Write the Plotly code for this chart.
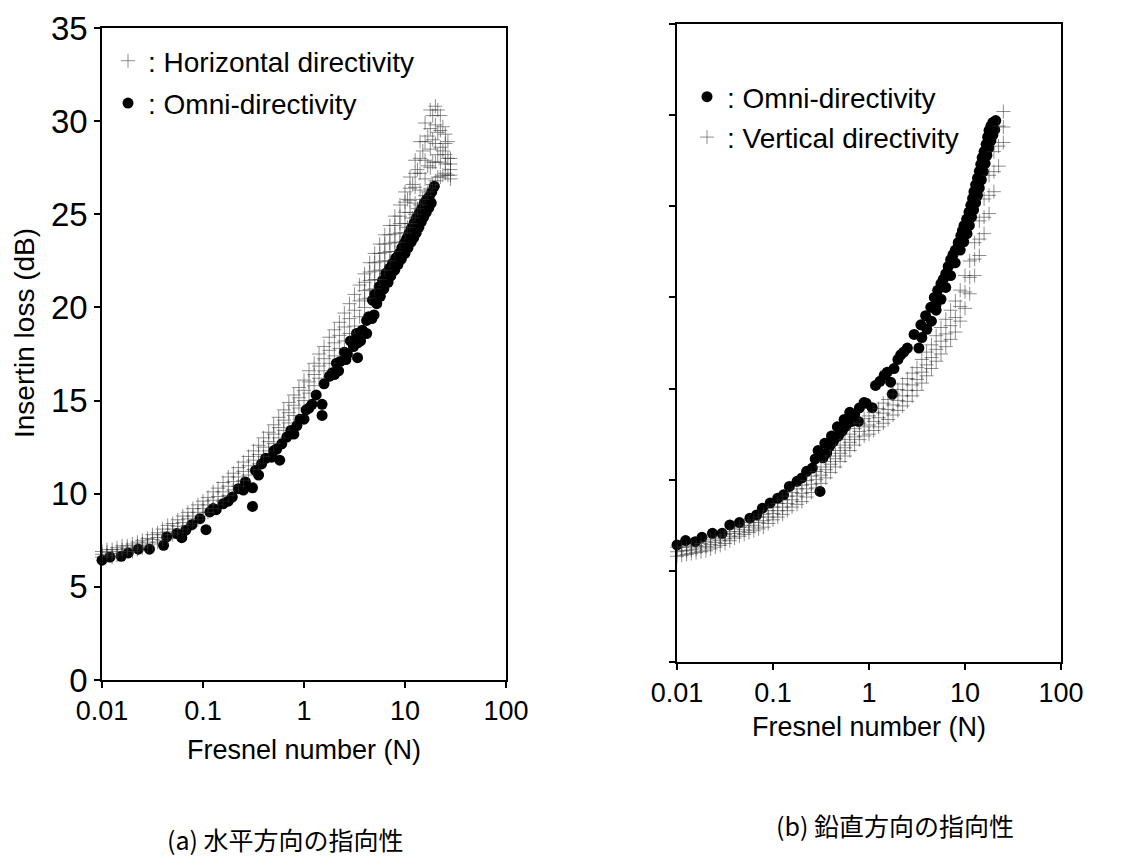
import plotly.graph_objects as go

# ---------------- (a) horizontal directivity panel ----------------
# Omni-directional source, insertion loss (dB) vs Fresnel number N
omni_a_N = [0.0100, 0.0120, 0.0155, 0.0182, 0.0229, 0.0295, 0.0407, 0.0437, 0.0550, 0.0617,
            0.0676, 0.0776, 0.0933, 0.107, 0.117, 0.126, 0.135, 0.158, 0.178, 0.195,
            0.224, 0.251, 0.263, 0.309, 0.309, 0.331, 0.355, 0.380, 0.417, 0.479,
            0.501, 0.537, 0.575, 0.603, 0.676, 0.741, 0.794, 0.851, 0.912, 1.00,
            1.05, 1.12, 1.20, 1.32, 1.51, 1.51, 1.58, 1.78, 1.91, 2.09,
            2.20, 2.29, 2.51, 2.69, 2.88, 3.09, 3.31, 3.39, 3.63, 3.78,
            4.17, 4.17, 4.37, 4.76, 4.94, 5.01, 5.25, 5.55, 6.17, 6.46,
            7.24, 7.52, 8.51, 8.75, 9.82, 10.0, 10.96, 11.5, 12.3, 12.9,
            13.8, 14.5, 15.5, 16.2, 17.4, 18.2, 19.5,
            5.2, 6.0, 7.0, 8.1, 9.3, 10.4, 11.6, 13.0, 14.6, 16.4,
            18.4, 4.7, 5.7, 6.8, 7.9, 9.2, 10.7, 12.2, 13.7, 15.3,
            17.2, 3.4, 2.6, 2.0]
omni_a_dB = [6.43, 6.60, 6.64, 6.82, 7.02, 7.02, 7.23, 7.68, 7.86, 7.64,
             8.04, 8.34, 8.66, 8.07, 9.02, 9.2, 9.14, 9.46, 9.6, 9.82,
             10.27, 10.2, 10.63, 10.32, 9.32, 11.25, 11.0, 11.6, 11.9, 11.96,
             12.3, 12.4, 11.8, 12.68, 13.04, 13.4, 13.2, 13.66, 14.0, 14.0,
             14.5, 14.6, 14.8, 15.3, 14.8, 14.2, 15.9, 16.3, 16.5, 17.0,
             16.6, 17.1, 17.6, 17.5, 18.2, 17.9, 18.6, 17.3, 18.2, 18.78,
             19.3, 18.6, 19.5, 20.39, 19.6, 20.7, 20.2, 21.11, 21.0, 21.83,
             21.7, 22.37, 22.3, 22.9, 23.44, 22.9, 23.98, 23.5, 24.52, 24.0,
             25.05, 24.6, 25.6, 25.1, 25.95, 25.6, 26.5,
             20.75, 21.45, 22.1, 22.65, 23.2, 23.7, 24.25, 24.8, 25.3, 25.8,
             26.2, 19.4, 20.6, 21.35, 22.0, 22.6, 23.2, 23.75, 24.3, 24.85,
             25.35, 18.1, 17.2, 16.4]

# Horizontal directivity: readings at each N across the scatter band
horiz_N = [0.0100, 0.0112, 0.0126, 0.0141, 0.0158, 0.0178, 0.0200, 0.0224, 0.0251, 0.0282,
           0.0316, 0.0355, 0.0398, 0.0447, 0.0501, 0.0562, 0.0631, 0.0708, 0.0794, 0.0891,
           0.100, 0.112, 0.126, 0.141, 0.158, 0.178, 0.200, 0.224, 0.251, 0.282,
           0.316, 0.355, 0.398, 0.447, 0.501, 0.562, 0.631, 0.708, 0.794, 0.891,
           1.00, 1.12, 1.26, 1.41, 1.58, 1.78, 2.00, 2.24, 2.51, 2.82,
           3.16, 3.55, 3.98, 4.47, 5.01, 5.62, 6.31, 7.08, 7.94, 8.91,
           10.0, 11.2, 12.6, 14.1, 15.8, 17.8, 20.0, 22.4, 25.1, 28.2]
horiz_lo = [6.6, 6.7, 6.6, 6.7, 6.8, 6.9, 6.9, 7.0, 7.1, 7.2,
            7.3, 7.4, 7.5, 7.6, 7.8, 7.9, 8.1, 8.3, 8.4, 8.6,
            8.8, 9.0, 9.2, 9.4, 9.6, 9.9, 10.2, 10.4, 10.7, 11.0,
            11.3, 11.6, 12.0, 12.3, 12.7, 13.0, 13.4, 13.8, 14.2, 14.6,
            15.0, 15.4, 15.8, 16.2, 16.6, 17.0, 17.4, 17.8, 18.2, 18.6,
            19.0, 19.5, 20.0, 20.5, 21.0, 21.5, 22.0, 22.5, 23.0, 23.5,
            24.0, 24.5, 25.0, 25.5, 26.0, 26.4, 26.8, 27.0, 27.2, 26.9]
horiz_mid = [6.75, 6.85, 6.8, 6.9, 7.0, 7.05, 7.1, 7.2, 7.3, 7.4,
             7.55, 7.65, 7.8, 7.95, 8.1, 8.25, 8.45, 8.65, 8.8, 9.0,
             9.2, 9.4, 9.65, 9.85, 10.1, 10.4, 10.65, 10.9, 11.2, 11.5,
             11.8, 12.1, 12.5, 12.8, 13.2, 13.55, 13.95, 14.35, 14.75, 15.15,
             15.55, 16.0, 16.4, 16.85, 17.25, 17.7, 18.1, 18.5, 18.95, 19.4,
             19.85, 20.35, 20.9, 21.45, 21.95, 22.45, 22.95, 23.45, 23.95, 24.5,
             25.1, 25.75, 26.45, 27.2, 27.9, 28.5, 28.8, 28.6, 28.2, 27.4]
horiz_hi = [6.9, 7.0, 7.0, 7.1, 7.2, 7.2, 7.3, 7.4, 7.5, 7.6,
            7.8, 7.9, 8.1, 8.3, 8.4, 8.6, 8.8, 9.0, 9.2, 9.4,
            9.6, 9.8, 10.1, 10.3, 10.6, 10.9, 11.1, 11.4, 11.7, 12.0,
            12.3, 12.6, 13.0, 13.3, 13.7, 14.1, 14.5, 14.9, 15.3, 15.7,
            16.1, 16.6, 17.0, 17.5, 17.9, 18.4, 18.8, 19.2, 19.7, 20.2,
            20.7, 21.2, 21.8, 22.4, 22.9, 23.4, 23.9, 24.4, 24.9, 25.5,
            26.2, 27.0, 27.9, 28.9, 29.9, 30.6, 30.8, 30.3, 29.3, 28.0]
# extra readings in the wide upper part of the band (N >= 4)
horiz_top_N = [3.98, 4.47, 5.01, 5.62, 6.31, 7.08, 7.94, 8.91, 10.0,
               11.2, 12.6, 14.1, 15.8, 17.8, 20.0, 22.4, 25.1, 28.2]
horiz_top_q1 = [20.45, 20.95, 21.5, 22.0, 22.5, 23.0, 23.5, 24.0, 24.5,
                25.1, 25.6, 26.3, 26.9, 27.5, 27.8, 27.8, 27.7, 27.1]
horiz_top_q3 = [21.35, 21.9, 22.4, 22.9, 23.4, 23.9, 24.4, 24.9, 25.65,
                26.4, 27.2, 28.0, 28.9, 29.6, 29.8, 29.5, 28.8, 27.7]
horiz_tip_N = [18.8, 18.8, 18.8, 18.8, 21.1, 21.1, 21.1, 21.1, 23.7, 23.7, 23.7,
               26.6, 26.6, 26.6, 16.8, 16.8, 16.8, 15.0, 15.0, 13.3, 13.3,
               11.9, 11.9, 10.6, 10.6]
horiz_tip_dB = [26.6, 27.8, 29.0, 30.3, 27.0, 28.2, 29.4, 30.6, 27.1, 28.4, 29.7,
                27.1, 28.0, 28.9, 26.2, 27.6, 29.2, 25.8, 28.4, 25.3, 27.4,
                24.8, 26.6, 24.3, 25.8]

# ---------------- (b) vertical directivity panel ----------------
omni_b_N = [0.0100, 0.0123, 0.0155, 0.0182, 0.0234, 0.0295, 0.0355, 0.0447, 0.0575, 0.0676,
            0.0776, 0.0933, 0.112, 0.129, 0.148, 0.178, 0.200, 0.224, 0.257, 0.275,
            0.309, 0.331, 0.363, 0.389, 0.427, 0.479, 0.525, 0.575, 0.661, 0.776,
            0.708, 0.794, 0.887, 0.933, 1.08, 1.17, 1.44, 1.75, 1.68, 1.82,
            2.14, 2.51, 3.31, 2.95, 3.47, 3.89, 4.40, 4.97, 4.79, 5.62,
            6.31, 7.08, 7.94, 9.04, 9.77, 11.0, 12.0, 12.9, 14.1, 15.1,
            16.6, 17.8, 19.5, 20.9, 3.55, 4.47, 5.62, 7.08, 8.91, 10.5,
            11.7, 12.9, 14.1, 15.5, 16.9, 18.6, 20.4,
            10.4, 11.5, 12.4, 13.5, 14.6, 15.8, 17.2, 18.6, 6.68, 7.5,
            8.5, 9.4, 5.2, 5.95, 9.7, 11.1, 12.3, 13.5, 14.8, 16.2,
            17.7, 19.5, 4.0, 5.0, 6.3, 7.9, 0.295, 0.347, 0.407, 0.468,
            0.55, 0.63, 1.30, 1.55, 2.0, 2.3]
omni_b_dB = [6.42, 6.66, 6.6, 6.84, 7.06, 7.06, 7.52, 7.65, 7.89, 8.07,
             8.44, 8.72, 8.99, 9.17, 9.63, 9.91, 10.1, 10.46, 10.64, 11.14,
             9.36, 11.2, 11.47, 11.83, 12.11, 12.39, 12.66, 12.94, 13.2, 13.2,
             13.58, 13.94, 14.23, 14.2, 13.95, 15.17, 15.73, 14.7, 15.35, 16.1,
             16.85, 17.22, 17.22, 17.97, 18.5, 19.0, 19.46, 19.55, 20.0, 20.76,
             21.3, 22.07, 22.6, 23.38, 23.94, 24.68, 25.43, 26.18, 26.92, 27.67,
             28.4, 29.16, 29.6, 29.7, 17.8, 18.7, 19.9, 21.2, 22.6, 23.5,
             24.4, 25.2, 26.0, 26.9, 27.8, 28.6, 29.2,
             24.3, 25.05, 25.8, 26.55, 27.3, 28.0, 28.8, 29.4, 21.7, 22.35,
             23.0, 23.66, 20.4, 21.0, 23.05, 23.95, 24.8, 25.6, 26.45, 27.35,
             28.2, 28.9, 18.25, 19.3, 20.55, 21.9, 11.6, 12.0, 12.4, 12.9,
             13.3, 13.7, 15.4, 15.9, 16.6, 17.0]

vert_N = [0.0100, 0.0112, 0.0126, 0.0141, 0.0158, 0.0178, 0.0200, 0.0224, 0.0251, 0.0282,
          0.0316, 0.0355, 0.0398, 0.0447, 0.0501, 0.0562, 0.0631, 0.0708, 0.0794, 0.0891,
          0.100, 0.112, 0.126, 0.141, 0.158, 0.178, 0.200, 0.224, 0.251, 0.282,
          0.316, 0.355, 0.398, 0.447, 0.501, 0.562, 0.631, 0.708, 0.794, 0.891,
          1.00, 1.12, 1.26, 1.41, 1.58, 1.78, 2.00, 2.24, 2.51, 2.82,
          3.16, 3.55, 3.98, 4.47, 5.01, 5.62, 6.31, 7.08, 7.94, 8.91,
          10.0, 11.2, 12.6, 14.1, 15.8, 17.8, 20.0, 22.4, 25.1]
vert_lo = [5.8, 5.85, 5.9, 5.95, 6.0, 6.05, 6.1, 6.2, 6.3, 6.4,
           6.5, 6.65, 6.8, 6.9, 7.0, 7.1, 7.2, 7.3, 7.4, 7.6,
           7.8, 7.95, 8.1, 8.3, 8.5, 8.65, 8.8, 9.05, 9.3, 9.55,
           9.8, 10.1, 10.4, 10.7, 11.0, 11.3, 11.6, 11.9, 12.2, 12.4,
           12.5, 12.7, 12.9, 13.1, 13.3, 13.55, 13.8, 14.05, 14.3, 14.6,
           14.9, 15.3, 15.7, 16.1, 16.5, 16.9, 17.3, 17.7, 18.1, 18.7,
           19.4, 20.2, 21.2, 22.3, 23.5, 24.6, 25.8, 27.2, 28.5]
vert_mid = [6.05, 6.1, 6.1, 6.15, 6.2, 6.3, 6.35, 6.45, 6.55, 6.65,
            6.75, 6.9, 7.05, 7.15, 7.25, 7.4, 7.5, 7.65, 7.75, 7.95,
            8.15, 8.3, 8.5, 8.7, 8.9, 9.1, 9.25, 9.5, 9.75, 10.0,
            10.25, 10.55, 10.85, 11.15, 11.45, 11.75, 12.05, 12.35, 12.65, 12.9,
            13.0, 13.2, 13.4, 13.65, 13.85, 14.1, 14.35, 14.6, 14.9, 15.2,
            15.5, 15.9, 16.3, 16.7, 17.15, 17.6, 18.0, 18.45, 18.9, 19.5,
            20.3, 21.1, 22.1, 23.2, 24.4, 25.6, 26.9, 28.3, 29.35]
vert_hi = [6.3, 6.3, 6.3, 6.35, 6.4, 6.5, 6.6, 6.7, 6.8, 6.9,
           7.0, 7.15, 7.3, 7.4, 7.5, 7.65, 7.8, 7.95, 8.1, 8.3,
           8.5, 8.7, 8.9, 9.1, 9.3, 9.5, 9.7, 9.95, 10.2, 10.45,
           10.7, 11.0, 11.3, 11.6, 11.9, 12.2, 12.5, 12.8, 13.1, 13.35,
           13.5, 13.7, 13.9, 14.2, 14.4, 14.7, 14.95, 15.25, 15.55, 15.85,
           16.15, 16.6, 17.0, 17.4, 17.9, 18.35, 18.8, 19.3, 19.8, 20.4,
           21.2, 22.0, 23.0, 24.2, 25.4, 26.7, 28.0, 29.4, 30.2]

x_tickvals = [0.01, 0.1, 1, 10, 100]
x_ticktext = ["0.01", "0.1", "1", "10", "100"]
y_tickvals = [0, 5, 10, 15, 20, 25, 30, 35]

FONT = "Liberation Sans, Arial, Helvetica, sans-serif"
CJK = "Noto Sans CJK JP, sans-serif"
W, H = 1139, 861

dot_style = dict(symbol="circle", size=11, color="black", line=dict(width=0))
cross_style = dict(symbol="cross-thin", size=10,
                   line=dict(width=1, color="rgba(50,50,50,0.55)"))

horiz_x = horiz_N * 3 + horiz_top_N * 2 + horiz_tip_N
horiz_y = horiz_lo + horiz_mid + horiz_hi + horiz_top_q1 + horiz_top_q3 + horiz_tip_dB
vert_x = vert_N * 3
vert_y = vert_lo + vert_mid + vert_hi

fig = go.Figure()
fig.add_trace(go.Scatter(x=omni_a_N, y=omni_a_dB, mode="markers", marker=dot_style,
                         name=": Omni-directivity", xaxis="x", yaxis="y",
                         legend="legend", legendrank=2, legendgroup="a_omni",
                         cliponaxis=False))
fig.add_trace(go.Scatter(x=horiz_x, y=horiz_y, mode="markers", marker=cross_style,
                         name=": Horizontal directivity", xaxis="x", yaxis="y",
                         legend="legend", legendrank=1, legendgroup="a_horiz",
                         cliponaxis=False))
fig.add_trace(go.Scatter(x=omni_b_N, y=omni_b_dB, mode="markers", marker=dot_style,
                         name=": Omni-directivity", xaxis="x2", yaxis="y2",
                         legend="legend2", legendrank=1, legendgroup="b_omni",
                         cliponaxis=False))
fig.add_trace(go.Scatter(x=vert_x, y=vert_y, mode="markers", marker=cross_style,
                         name=": Vertical directivity", xaxis="x2", yaxis="y2",
                         legend="legend2", legendrank=2, legendgroup="b_vert",
                         cliponaxis=False))

axis_common = dict(showline=True, linecolor="black", linewidth=1.5, mirror=True,
                   ticks="outside", ticklen=6, tickwidth=1.5, tickcolor="black",
                   showgrid=False, zeroline=False, automargin=False)
x_tickfont = dict(family=FONT, size=27, color="black")
y_tickfont = dict(family=FONT, size=33, color="black")

fig.update_layout(
    template="none",
    width=W, height=H, autosize=False,
    margin=dict(l=0, r=0, t=0, b=0, pad=0, autoexpand=False),
    paper_bgcolor="white", plot_bgcolor="white",
    font=dict(family=FONT, color="black"),
    xaxis=dict(type="log", range=[-2, 2], domain=[102 / W, 506 / W], anchor="y",
               tickvals=x_tickvals, ticktext=x_ticktext, tickfont=x_tickfont,
               title=dict(text="Fresnel number (N)", font=dict(family=FONT, size=27),
                          standoff=15),
               **axis_common),
    yaxis=dict(range=[0, 35], domain=[1 - 680 / H, 1 - 28 / H], anchor="x",
               tickvals=y_tickvals, tickfont=y_tickfont, **axis_common),
    xaxis2=dict(type="log", range=[-2, 2], domain=[677 / W, 1061 / W], anchor="y2",
                tickvals=x_tickvals, ticktext=x_ticktext, tickfont=x_tickfont,
                title=dict(text="Fresnel number (N)", font=dict(family=FONT, size=27),
                           standoff=10),
                **axis_common),
    yaxis2=dict(range=[0, 35], domain=[1 - 662 / H, 1 - 24 / H], anchor="x2",
                tickvals=y_tickvals, showticklabels=False, **axis_common),
    legend=dict(x=108 / W, y=1 - 36 / H, xanchor="left", yanchor="top",
                bgcolor="rgba(0,0,0,0)", font=dict(family=FONT, size=28),
                tracegroupgap=3, itemsizing="trace"),
    legend2=dict(x=687 / W, y=1 - 72 / H, xanchor="left", yanchor="top",
                 bgcolor="rgba(0,0,0,0)", font=dict(family=FONT, size=28),
                 tracegroupgap=1, itemsizing="trace"),
    annotations=[
        dict(text="Insertin loss (dB)", textangle=-90, x=25 / W, y=1 - 333 / H,
             xref="paper", yref="paper", showarrow=False,
             font=dict(family=FONT, size=28), xanchor="center", yanchor="middle"),
        dict(text="(a) 水平方向の指向性", x=285 / W, y=1 - 839 / H,
             xref="paper", yref="paper", showarrow=False,
             font=dict(family=CJK, size=25), xanchor="center", yanchor="middle"),
        dict(text="(b) 鉛直方向の指向性", x=895 / W, y=1 - 825 / H,
             xref="paper", yref="paper", showarrow=False,
             font=dict(family=CJK, size=25), xanchor="center", yanchor="middle"),
    ],
)

fig.write_html("out.html")
